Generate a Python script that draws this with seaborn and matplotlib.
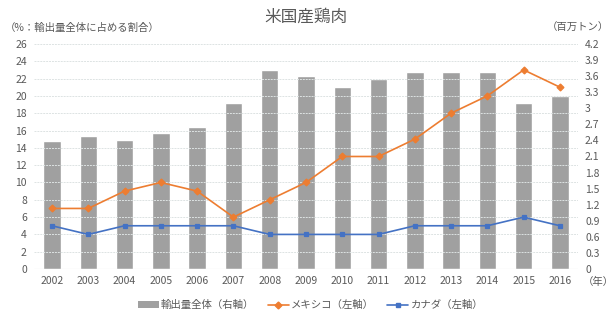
import matplotlib
matplotlib.use("Agg")
import matplotlib.pyplot as plt
import seaborn as sns
import numpy as np
import pandas as pd
from matplotlib.lines import Line2D
from matplotlib.patches import Patch

years = ["2002", "2003", "2004", "2005", "2006", "2007", "2008", "2009",
         "2010", "2011", "2012", "2013", "2014", "2015", "2016"]
total_exports = [2.39, 2.49, 2.40, 2.54, 2.65, 3.09, 3.71, 3.60,
                 3.40, 3.54, 3.68, 3.67, 3.67, 3.09, 3.23]
mexico_share = [7, 7, 9, 10, 9, 6, 8, 10, 13, 13, 15, 18, 20, 23, 21]
canada_share = [5, 4, 5, 5, 5, 5, 4, 4, 4, 4, 5, 5, 5, 6, 5]

left_ticks = list(range(0, 27, 2))
right_ticks = [0, 0.3, 0.6, 0.9, 1.2, 1.5, 1.8, 2.1, 2.4, 2.7, 3, 3.3, 3.6, 3.9, 4.2]

sns.set_theme(style="white")
plt.rcParams["font.family"] = ["Noto Sans CJK JP", "DejaVu Sans"]
txt = "#595959"

df = pd.DataFrame({"year": years, "total": total_exports,
                   "mexico": mexico_share, "canada": canada_share})

fig = plt.figure(figsize=(6.15, 3.23), dpi=100)
fig.patch.set_facecolor("white")
ax = fig.add_axes([0.055, 0.167, 0.885, 0.697])
ax.set_facecolor("none")

sns.barplot(data=df, x="year", y="total", color="#a0a0a0", width=0.48,
            saturation=1, ax=ax, zorder=2)

ax2 = ax.twinx()
sns.pointplot(data=df, x="year", y="mexico", color="#ED7D31", markers="D",
              markersize=3.5, linewidth=1.2, ax=ax2)
sns.pointplot(data=df, x="year", y="canada", color="#4472C4", markers="s",
              markersize=3.5, linewidth=1.2, ax=ax2)

ax.set_ylim(0, 4.2)
ax.set_yticks(right_ticks)
ax.set_yticklabels([f"{t:g}" for t in right_ticks])
ax.yaxis.tick_right()
ax.yaxis.set_label_position("right")

ax2.set_ylim(0, 26)
ax2.set_yticks(left_ticks)
ax2.set_yticklabels([str(t) for t in left_ticks])
ax2.yaxis.tick_left()
ax2.yaxis.set_label_position("left")

for t in left_ticks[1:]:
    ax2.axhline(t, color="#dde3e3", lw=0.7, ls=(0, (2, 1)), zorder=0)
ax2.axhline(0, color="#d9d9d9", lw=0.8, zorder=0)

for a in (ax, ax2):
    a.set_xlabel("")
    a.set_ylabel("")
    for s in a.spines.values():
        s.set_visible(False)
    a.tick_params(axis="both", length=0, labelsize=7.5, colors=txt, pad=5)
ax.tick_params(axis="x", pad=5)
ax.set_xlim(-0.5, len(years) - 0.5)

fig.text(0.497, 0.948, "米国産鶏肉", ha="center", va="center", fontsize=12, color=txt)
fig.text(0.008, 0.915, "（%：輸出量全体に占める割合）", ha="left", va="center", fontsize=7.5, color=txt)
fig.text(0.99, 0.915, "（百万トン）", ha="right", va="center", fontsize=7.5, color=txt)
fig.text(0.998, 0.128, "（年）", ha="right", va="center", fontsize=7.5, color=txt)

handles = [Patch(facecolor="#a0a0a0", edgecolor="none"),
           Line2D([], [], color="#ED7D31", marker="D", markersize=3.5, lw=1.2),
           Line2D([], [], color="#4472C4", marker="s", markersize=3.5, lw=1.2)]
labels = ["輸出量全体（右軸）", "メキシコ（左軸）", "カナダ（左軸）"]
fig.legend(handles, labels, loc="center", bbox_to_anchor=(0.505, 0.055), ncol=3,
           frameon=False, fontsize=7.5, labelcolor=txt, handlelength=2.0,
           handletextpad=0.2, columnspacing=1.3)

fig.savefig("out.png", dpi=100)
